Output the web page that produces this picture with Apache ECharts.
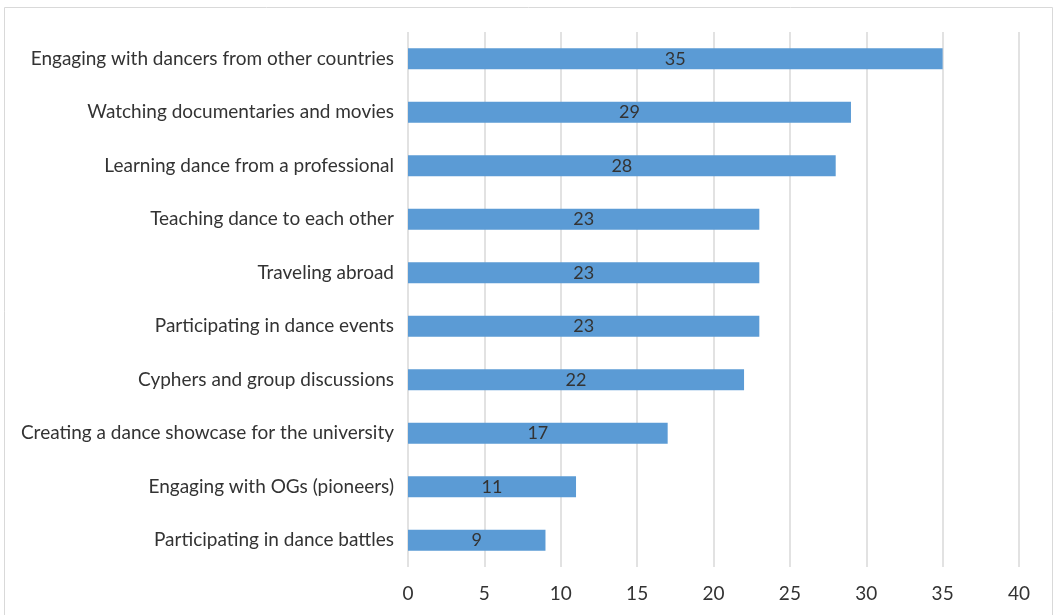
<!DOCTYPE html>
<html>
<head>
<meta charset="utf-8">
<script src="https://cdn.jsdelivr.net/npm/echarts@6/dist/echarts.min.js"></script>
<style>
  html, body { margin: 0; padding: 0; background: #fff; }
  #main { width: 1059px; height: 615px; }
</style>
</head>
<body>
<div id="main"></div>
<script>
// categories listed top to bottom
var categories = [
  "Engaging with dancers from other countries",
  "Watching documentaries and movies",
  "Learning dance from a professional",
  "Teaching dance to each other",
  "Traveling abroad",
  "Participating in dance events",
  "Cyphers and group discussions",
  "Creating a dance showcase for the university",
  "Engaging with OGs (pioneers)",
  "Participating in dance battles"
];
var counts = [35, 29, 28, 23, 23, 23, 22, 17, 11, 9];
var axisMin = 0, axisMax = 40, axisStep = 5;

var myChart = echarts.init(document.getElementById("main"));
var font = "Lato, 'Open Sans', sans-serif";

var option = {
  animation: false,
  textStyle: { fontFamily: font },
  graphic: [
    {
      type: "rect",
      shape: { x: 4.5, y: 7.5, width: 1048, height: 640 },
      style: { fill: "none", stroke: "#d9d9d9", lineWidth: 1 },
      silent: true
    }
  ],
  grid: { left: 408, right: 40, top: 32, bottom: 48 },
  xAxis: {
    type: "value",
    min: axisMin,
    max: axisMax,
    interval: axisStep,
    axisLine: { show: false },
    axisTick: { show: false },
    axisLabel: { color: "#333333", fontSize: 19, margin: 17, fontFamily: font },
    splitLine: { show: true, lineStyle: { color: "#d9d9d9", width: 1.5 } }
  },
  yAxis: {
    type: "category",
    inverse: true,
    data: categories,
    axisLine: { show: false },
    axisTick: { show: false },
    axisLabel: { color: "#333333", fontSize: 19, margin: 14, fontFamily: font }
  },
  series: [
    {
      type: "bar",
      data: counts,
      barWidth: 21,
      itemStyle: { color: "#5b9bd5" },
      label: {
        show: true,
        position: "inside",
        color: "#333333",
        fontSize: 18,
        fontFamily: font
      }
    }
  ]
};

myChart.setOption(option);
window.addEventListener("resize", function () {
  myChart.resize();
});
</script>
</body>
</html>
